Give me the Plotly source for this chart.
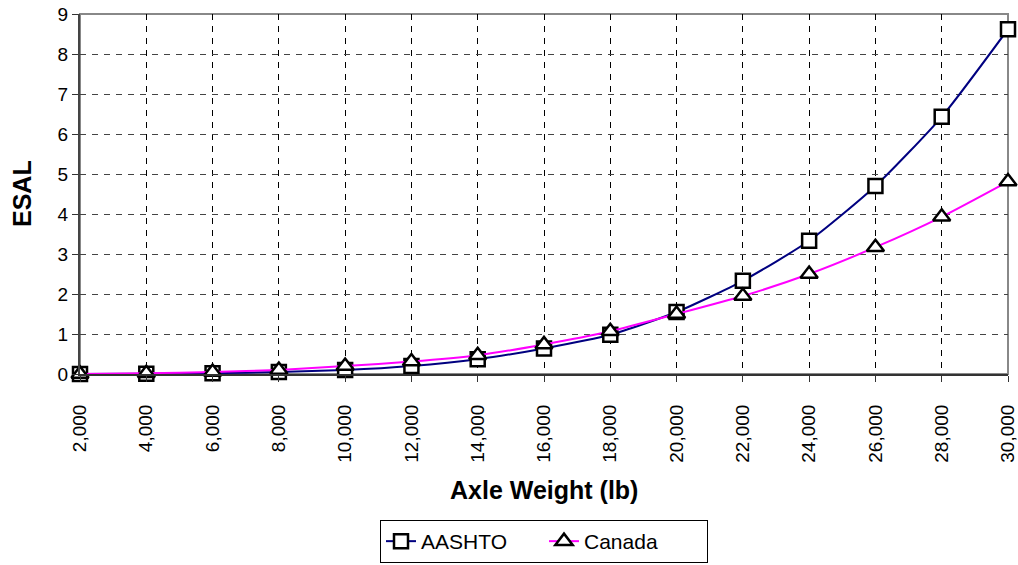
import plotly.graph_objects as go

# Axle weights (lb) and equivalent single axle loads
axle_weight = [2000, 4000, 6000, 8000, 10000, 12000, 14000, 16000,
               18000, 20000, 22000, 24000, 26000, 28000, 30000]
aashto = [0.0003, 0.005, 0.02, 0.05, 0.1, 0.2, 0.37, 0.64,
          0.98, 1.55, 2.33, 3.33, 4.7, 6.43, 8.62]
canada = [0.002, 0.02, 0.05, 0.1, 0.2, 0.31, 0.47, 0.74,
          1.07, 1.5, 1.95, 2.5, 3.17, 3.93, 4.81]
x_tick_text = [f"{v:,}" for v in axle_weight]

font_family = "Liberation Sans, Arial, sans-serif"

fig = go.Figure()
fig.add_trace(go.Scatter(
    x=axle_weight, y=aashto, name="AASHTO", mode="lines+markers",
    line=dict(color="#000080", width=2, shape="spline", smoothing=0.6),
    marker=dict(symbol="square", size=14, color="white",
                line=dict(color="black", width=2.5)),
    cliponaxis=False,
))
fig.add_trace(go.Scatter(
    x=axle_weight, y=canada, name="Canada", mode="lines+markers",
    line=dict(color="#FF00FF", width=2, shape="spline", smoothing=0.6),
    marker=dict(symbol="triangle-up", size=15, color="white",
                line=dict(color="black", width=2.5)),
    cliponaxis=False,
))

# Plot frame: grey on top/right
fig.add_shape(type="rect", xref="paper", yref="paper", x0=0, y0=0, x1=1, y1=1,
              line=dict(color="#888888", width=2), layer="below")

# Axis titles
fig.add_annotation(text="<b>Axle Weight (lb)</b>", xref="paper", yref="paper",
                   x=0.5, y=-116 / 360, xanchor="center", yanchor="middle",
                   showarrow=False, font=dict(size=25))
fig.add_annotation(text="<b>ESAL</b>", xref="paper", yref="paper",
                   x=-58 / 928, y=0.5, xanchor="center", yanchor="middle",
                   textangle=-90, showarrow=False, font=dict(size=25))

fig.update_layout(
    width=1018, height=565,
    margin=dict(l=80, r=10, t=14, b=191, autoexpand=False),
    plot_bgcolor="white", paper_bgcolor="white",
    font=dict(family=font_family, size=19, color="black"),
    showlegend=True,
    legend=dict(orientation="h", x=0.5, xanchor="center", y=-189 / 360, yanchor="bottom",
                bordercolor="black", borderwidth=1, font=dict(size=21),
                entrywidth=118, entrywidthmode="pixels", tracegroupgap=0),
)
fig.update_xaxes(
    range=[2000, 30000], tickvals=axle_weight, ticktext=x_tick_text,
    tickangle=-90, ticks="outside", ticklen=6, tickcolor="#333333",
    ticklabelstandoff=15, ticklabeloverflow="allow",
    showline=True, linecolor="#333333", linewidth=2,
    showgrid=True, gridcolor="black", gridwidth=1, griddash="6px,6px",
    zeroline=False, automargin=False,
)
fig.update_yaxes(
    range=[0, 9], dtick=1, ticks="outside", ticklen=6, tickcolor="#333333",
    showline=True, linecolor="#444444", linewidth=2,
    showgrid=True, gridcolor="#444444", gridwidth=1, griddash="6px,6px",
    zeroline=False, automargin=False,
)

fig.write_html("out.html")
